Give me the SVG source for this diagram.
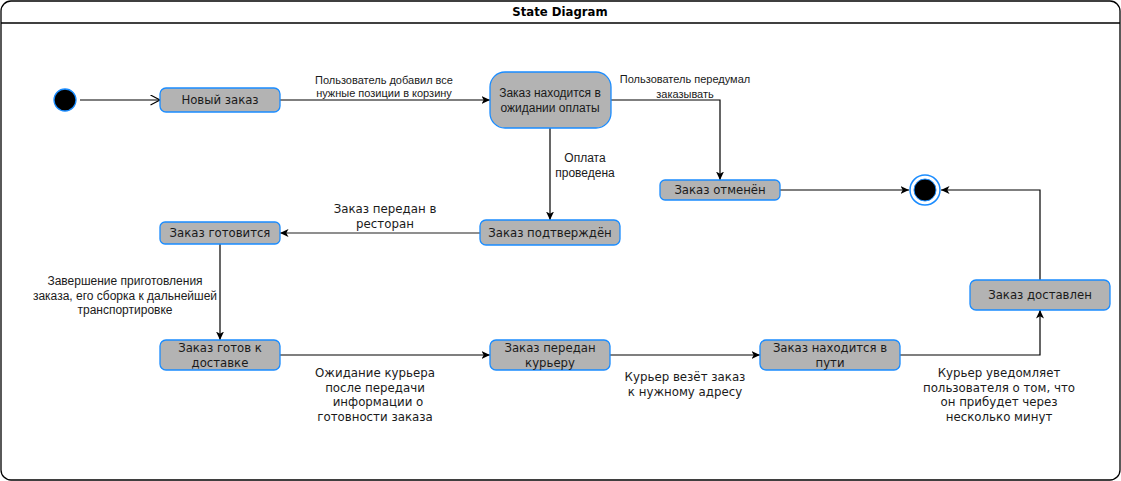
<svg xmlns="http://www.w3.org/2000/svg" width="1121" height="481" viewBox="0 0 1121 481">
<style>
.node rect{fill:#b3b3b3;stroke:#1a8cff;stroke-width:1.3}
.nt{font-family:"DejaVu Sans",Verdana,sans-serif;font-size:11.7px;fill:#1a1a1a;text-anchor:middle}
.la{font-family:"Liberation Sans",Arial,sans-serif;fill:#1a1a1a;text-anchor:middle}
.ld{font-family:"DejaVu Sans",Verdana,sans-serif;font-size:11.8px;fill:#1a1a1a;text-anchor:middle}
.e{fill:none;stroke:#000;stroke-width:1.2}
</style>
<defs>
<marker id="cl" markerUnits="userSpaceOnUse" markerWidth="9" markerHeight="8" refX="8.5" refY="4" orient="auto">
<path d="M0,0 L8.5,4 L0,8 L2.2,4 z" fill="#000"/>
</marker>
<marker id="op" markerUnits="userSpaceOnUse" markerWidth="12" markerHeight="12" refX="10" refY="5.5" orient="auto">
<path d="M0.5,0.5 L10,5.5 L0.5,10.5" fill="none" stroke="#000" stroke-width="1.2"/>
</marker>
</defs>
<g id="frame">
<rect x="1" y="1" width="1119" height="479" rx="10" fill="#fff" stroke="#000" stroke-width="1.3"/>
<line x1="1" y1="23" x2="1120" y2="23" stroke="#000" stroke-width="1.3"/>
<text x="560" y="16" font-family="DejaVu Sans,Verdana,sans-serif" font-size="11.7" font-weight="bold" text-anchor="middle" fill="#000">State Diagram</text>
</g>
<g id="connectors">
<path class="e" d="M80,100 H160" marker-end="url(#op)"/>
<path class="e" d="M280,100 H490" marker-end="url(#cl)"/>
<path class="e" d="M550,128 V220" marker-end="url(#cl)"/>
<path class="e" d="M611,100 H720 V180" marker-end="url(#cl)"/>
<path class="e" d="M780,190 H909" marker-end="url(#cl)"/>
<path class="e" d="M480,233 H280" marker-end="url(#cl)" style="stroke:#6a6a6a;stroke-width:1.7"/>
<path class="e" d="M220,244 V340" marker-end="url(#cl)"/>
<path class="e" d="M280,355 H490" marker-end="url(#cl)"/>
<path class="e" d="M610,355 H760" marker-end="url(#cl)"/>
<path class="e" d="M900,355 H1040 V310" marker-end="url(#cl)"/>
<path class="e" d="M1040,280 V190 H941" marker-end="url(#cl)"/>
<text class="la" font-size="11"><tspan x="384" y="84">Пользователь добавил все</tspan><tspan x="384" y="97">нужные позиции в корзину</tspan></text>
<text class="la" font-size="11"><tspan x="685" y="83">Пользователь передумал</tspan><tspan x="685" y="98">заказывать</tspan></text>
<text class="la" font-size="12"><tspan x="585" y="162">Оплата</tspan><tspan x="585" y="177">проведена</tspan></text>
<text class="ld"><tspan x="385" y="213">Заказ передан в</tspan><tspan x="385" y="228">ресторан</tspan></text>
<text class="la" font-size="12"><tspan x="125" y="285">Завершение приготовления</tspan><tspan x="125" y="299.5">заказа, его сборка к дальнейшей</tspan><tspan x="125" y="314">транспортировке</tspan></text>
<text class="ld"><tspan x="375" y="377">Ожидание курьера</tspan><tspan x="375" y="391.5">после передачи</tspan><tspan x="378" y="406">информации о</tspan><tspan x="375" y="420.5">готовности заказа</tspan></text>
<text class="ld"><tspan x="685" y="381">Курьер везёт заказ</tspan><tspan x="685" y="396">к нужному адресу</tspan></text>
<text class="ld"><tspan x="999" y="377">Курьер уведомляет</tspan><tspan x="999" y="391.5">пользователя о том, что</tspan><tspan x="999" y="406">он прибудет через</tspan><tspan x="999" y="420.5">несколько минут</tspan></text>
</g>
<g id="initial">
<circle cx="65" cy="100" r="11" fill="#000" stroke="#1a8cff" stroke-width="1.3"/>
</g>
<g id="final">
<circle cx="925" cy="190" r="15" fill="#fff" stroke="#1a8cff" stroke-width="1.5"/>
<circle cx="925" cy="190" r="11" fill="#000" stroke="#1a8cff" stroke-width="1"/>
</g>
<g id="n-new" class="node"><rect x="160" y="88" width="120" height="24" rx="6"/><text class="nt" x="220" y="104">Новый заказ</text></g>
<g id="n-wait" class="node"><rect x="490" y="72" width="121" height="56" rx="15"/><text class="la" font-size="12"><tspan x="550" y="97">Заказ находится в</tspan><tspan x="550" y="112">ожидании оплаты</tspan></text></g>
<g id="n-confirmed" class="node"><rect x="480" y="220" width="140" height="25" rx="6"/><text class="nt" x="550" y="237">Заказ подтверждён</text></g>
<g id="n-cancelled" class="node"><rect x="660" y="180" width="120" height="20" rx="5"/><text class="nt" x="720" y="194">Заказ отменён</text></g>
<g id="n-cooking" class="node"><rect x="160" y="222" width="120" height="22" rx="5"/><text class="nt" x="220" y="237">Заказ готовится</text></g>
<g id="n-ready" class="node"><rect x="160" y="340" width="120" height="30" rx="6"/><text class="nt"><tspan x="220" y="352">Заказ готов к</tspan><tspan x="220" y="366.5">доставке</tspan></text></g>
<g id="n-courier" class="node"><rect x="490" y="340" width="120" height="30" rx="6"/><text class="nt"><tspan x="550" y="352">Заказ передан</tspan><tspan x="550" y="366.5">курьеру</tspan></text></g>
<g id="n-transit" class="node"><rect x="760" y="340" width="140" height="30" rx="6"/><text class="nt"><tspan x="830" y="352">Заказ находится в</tspan><tspan x="830" y="366.5">пути</tspan></text></g>
<g id="n-delivered" class="node"><rect x="970" y="280" width="140" height="30" rx="6"/><text class="nt" x="1040" y="299">Заказ доставлен</text></g>
</svg>
